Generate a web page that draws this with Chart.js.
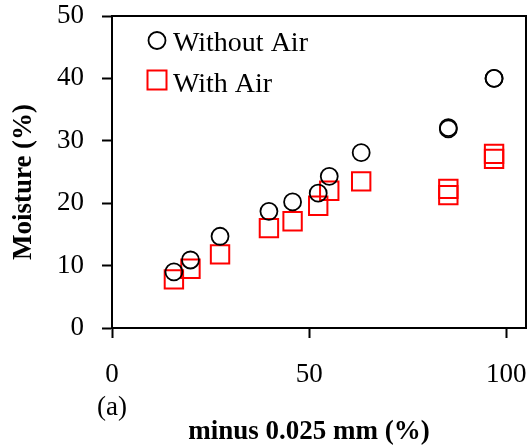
<!DOCTYPE html>
<html>
<head>
<meta charset="utf-8">
<script src="https://cdn.jsdelivr.net/npm/chart.js@4"></script>
<style>
    body { margin: 0; background: #fff; }
    #wrap { width: 532px; height: 448px; position: relative; }
</style>
</head>
<body>
<div id="wrap"><canvas id="moistureChart"></canvas></div>
<script>
// values
const fineX = [15.7, 19.9, 27.4, 39.8, 45.8, 52.3, 55.1, 63.2, 85.3, 85.3, 96.9, 96.9];
const withoutAirY = [9.0, 10.9, 14.7, 18.7, 20.2, 21.6, 24.3, 28.1, 31.9, 32.1, 40.0, 40.0];
const withAirY = [7.8, 9.5, 11.8, 16.0, 17.1, 19.6, 22.0, 23.5, 22.3, 21.3, 27.9, 27.1];

const seriesLabels = ['Without Air', 'With Air'];
const xTickValues = [0, 50, 100];
const xTickLabels = ['0', '50', '100'];
const yTickValues = [0, 10, 20, 30, 40, 50];
const panelLabel = '(a)';
const xTitle = 'minus 0.025 mm (%)';
const yTitle = 'Moisture (%)';

const FONT = "'Liberation Serif', 'Times New Roman', serif";

function toPoints(xs, ys) {
    return xs.map((x, i) => ({ x: x, y: ys[i] }));
}

// labels sticking out past the plot should not shrink it
function noExtraPadding(axis) {
    axis.paddingLeft = 0;
    axis.paddingRight = 0;
    axis.paddingTop = 0;
    axis.paddingBottom = 0;
}

// box around plot, legend inside, axis titles
const framePlugin = {
    id: 'frame',
    afterDraw(chart) {
        const ctx = chart.ctx;
        const a = chart.chartArea;
        ctx.save();
        ctx.strokeStyle = '#000';
        ctx.lineWidth = 2;
        ctx.strokeRect(a.left, a.top, a.right - a.left, a.bottom - a.top);

        // legend
        const lx = a.left + 45;
        ctx.lineWidth = 1.8;
        ctx.strokeStyle = '#000';
        ctx.beginPath();
        ctx.arc(lx, a.top + 24.5, 8.5, 0, Math.PI * 2);
        ctx.stroke();
        ctx.strokeStyle = '#ff0000';
        ctx.lineWidth = 2;
        ctx.strokeRect(lx - 9.5, a.top + 54.5, 19, 19);

        ctx.fillStyle = '#000';
        ctx.font = '28px ' + FONT;
        ctx.textAlign = 'left';
        ctx.textBaseline = 'alphabetic';
        ctx.fillText(chart.data.datasets[0].label, a.left + 61, a.top + 35);
        ctx.fillText(chart.data.datasets[1].label, a.left + 61, a.top + 76);

        // axis titles
        ctx.font = 'bold 27px ' + FONT;
        ctx.textAlign = 'center';
        ctx.textBaseline = 'middle';
        ctx.fillText(xTitle, 309, 432);
        ctx.translate(24, 182);
        ctx.rotate(-Math.PI / 2);
        ctx.fillText(yTitle, 0, 0);
        ctx.restore();
    }
};

const ctx = document.getElementById('moistureChart');

new Chart(ctx, {
    type: 'scatter',
    data: {
        datasets: [
            {
                label: seriesLabels[0],
                data: toPoints(fineX, withoutAirY),
                pointStyle: 'circle',
                pointRadius: 8.5,
                pointHoverRadius: 8.5,
                borderWidth: 1.8,
                borderColor: '#000',
                backgroundColor: 'rgba(0,0,0,0)'
            },
            {
                label: seriesLabels[1],
                data: toPoints(fineX, withAirY),
                pointStyle: 'rect',
                pointRadius: 13,
                pointHoverRadius: 13,
                borderWidth: 2,
                borderColor: '#ff0000',
                backgroundColor: 'rgba(0,0,0,0)'
            }
        ]
    },
    options: {
        responsive: true,
        maintainAspectRatio: false,
        animation: false,
        layout: {
            autoPadding: false,
            padding: { top: 16, right: 6, left: 0, bottom: 0 }
        },
        scales: {
            x: {
                type: 'linear',
                min: 0,
                max: 105,
                afterBuildTicks: function(axis) {
                    axis.ticks = xTickValues.map(v => ({ value: v }));
                },
                afterFit: function(axis) {
                    axis.height = 120;
                    noExtraPadding(axis);
                },
                grid: {
                    drawOnChartArea: false,
                    drawTicks: true,
                    tickLength: 10,
                    tickWidth: 2,
                    tickColor: '#000'
                },
                border: { display: true, color: '#000', width: 2 },
                ticks: {
                    color: '#000',
                    padding: 21,
                    maxRotation: 0,
                    font: { family: FONT, size: 27, lineHeight: 1.2 },
                    callback: function(value) {
                        const i = xTickValues.indexOf(value);
                        if (i === 0) return [xTickLabels[0], panelLabel];
                        return i >= 0 ? xTickLabels[i] : '';
                    }
                },
                title: { display: false }
            },
            y: {
                type: 'linear',
                min: 0,
                max: 50,
                afterBuildTicks: function(axis) {
                    axis.ticks = yTickValues.map(v => ({ value: v }));
                },
                afterFit: function(axis) {
                    axis.width = 112;
                    noExtraPadding(axis);
                },
                grid: {
                    drawOnChartArea: false,
                    drawTicks: true,
                    tickLength: 10,
                    tickWidth: 2,
                    tickColor: '#000'
                },
                border: { display: true, color: '#000', width: 2 },
                ticks: {
                    color: '#000',
                    padding: 18,
                    font: { family: FONT, size: 27 }
                },
                title: { display: false }
            }
        },
        plugins: {
            legend: { display: false },
            tooltip: { enabled: false }
        }
    },
    plugins: [framePlugin]
});
</script>
</body>
</html>
